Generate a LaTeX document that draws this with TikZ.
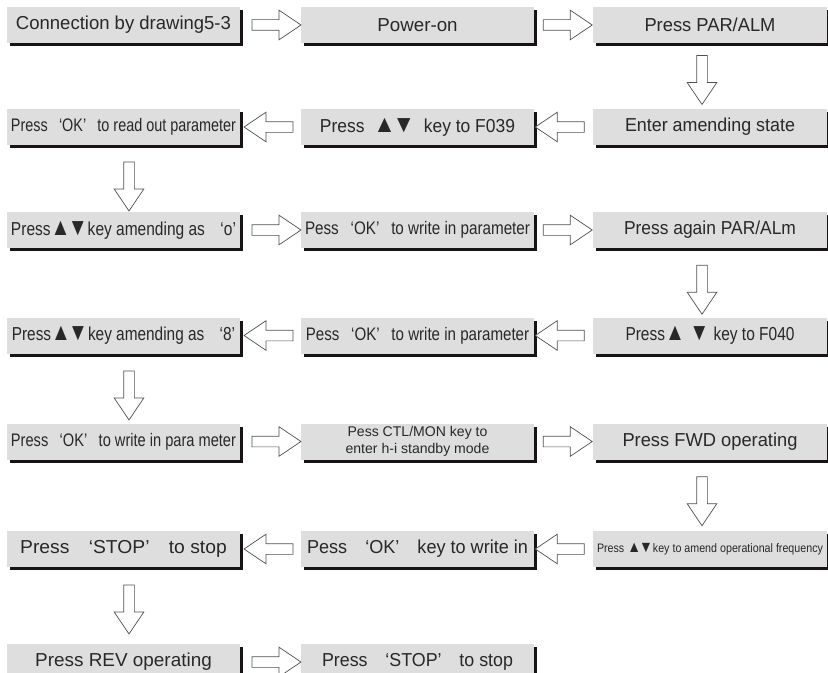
\documentclass[tikz,border=0pt]{standalone}
\usepackage{fontspec}
\setmainfont{Liberation Sans}
\usepackage{graphicx}
\usetikzlibrary{calc,shapes.arrows,shadows}
\definecolor{boxgray}{RGB}{222,222,222}
\definecolor{txtgray}{RGB}{40,40,40}
\definecolor{edgegray}{RGB}{80,80,80}
\definecolor{shadowblk}{RGB}{25,20,20}
\newcommand\fitw[2]{\resizebox{#1}{\height}{#2}}
\newcommand\tup{\scalebox{1.3}{▲}}
\newcommand\tdn{\scalebox{1.3}{▼}}
\newcommand\updn{\tup\kern-0.18em\tdn}
\tikzset{
  stepbox/.style={fill=boxgray, text=txtgray, minimum width=70mm, minimum height=10.8mm,
    inner sep=0pt, align=center,
    drop shadow={shadow xshift=0.9mm, shadow yshift=-0.9mm, fill=shadowblk, opacity=1}},
  blk/.style={single arrow, draw=edgegray, fill=white, line width=0.6pt,
    inner xsep=0pt, inner ysep=1.5mm, single arrow head extend=2.85mm,
    single arrow tip angle=68, minimum height=14.7mm},
  bigtxt/.style={font=\fontsize{16}{18}\selectfont},
  midtxt/.style={font=\fontsize{15.5}{17}\selectfont},
  smalltxt/.style={font=\fontsize{12}{15}\selectfont},
}

\begin{document}
\begin{tikzpicture}[x=0.3mm, y=-0.3mm]
  \useasboundingbox (0,0) rectangle (828,672);
  % row 1
  \node[stepbox, bigtxt] (conn)     at (123.5,25) {\fitw{64.5mm}{Connection by drawing5-3}};
  \node[stepbox, bigtxt] (poweron)  at (417.5,25) {Power-on};
  \node[stepbox, bigtxt] (paralm)   at (710,25)   {\fitw{39.3mm}{Press PAR/ALM}};
  % row 2
  \node[stepbox, midtxt] (readout)  at (123.5,127) {\fitw{67.5mm}{Press\enspace\ ‘OK’\enspace\ to read out parameter}};
  \node[stepbox, bigtxt] (keyA)     at (417.5,127) {\fitw{58.5mm}{Press\enspace \updn\enspace key to F039}};
  \node[stepbox, bigtxt] (amend)    at (710,127)   {\fitw{51mm}{Enter amending state}};
  % row 3
  \node[stepbox, bigtxt] (setO)     at (123.5,230) {\fitw{67.5mm}{Press\updn key amending as\quad ‘o’}};
  \node[stepbox, midtxt] (writeA)   at (417.5,230) {\fitw{67.5mm}{Pess\enspace\ ‘OK’\enspace\ to write in parameter}};
  \node[stepbox, bigtxt] (again)    at (710,230)   {\fitw{51.6mm}{Press again PAR/ALm}};
  % row 4
  \node[stepbox, bigtxt] (setEight) at (123.5,335.5) {\fitw{67mm}{Press\updn key amending as\quad ‘8’}};
  \node[stepbox, midtxt] (writeB)   at (417.5,335.5) {\fitw{67mm}{Pess\enspace\ ‘OK’\enspace\ to write in parameter}};
  \node[stepbox, bigtxt] (keyB)     at (710,335.5)   {\fitw{50.7mm}{Press\tup\ \tdn\ key to F040}};
  % row 5
  \node[stepbox, midtxt] (writeC)   at (123.5,441.5) {\fitw{67.5mm}{Press\enspace\ ‘OK’\enspace\ to write in para meter}};
  \node[stepbox, smalltxt] (ctlmon) at (417.5,441.5) {Pess CTL/MON key to\\enter h-i standby mode};
  \node[stepbox, bigtxt] (fwd)      at (710,441.5)   {\fitw{52.5mm}{Press FWD operating}};
  % row 6
  \node[stepbox, bigtxt] (stopA)    at (123.5,549) {\fitw{62mm}{Press\quad‘STOP’\quad to stop}};
  \node[stepbox, bigtxt] (okkey)    at (417.5,549) {\fitw{66.3mm}{Pess\quad‘OK’\quad key to write in}};
  \node[stepbox, font=\fontsize{10.5}{12}\selectfont] (freq) at (710,549)
    {\fitw{67.8mm}{Press \updn key to amend operational frequency}};
  % row 7
  \node[stepbox, bigtxt] (rev)      at (123.5,662) {\fitw{53mm}{Press REV operating}};
  \node[stepbox, bigtxt] (stopB)    at (417.5,662) {\fitw{57.3mm}{Press\quad‘STOP’\quad to stop}};

  % block arrows
  \node[blk] at ($(conn.east)!0.5!(poweron.west)+(2,0)$) {};
  \node[blk] at ($(poweron.east)!0.5!(paralm.west)$) {};
  \node[blk, rotate=-90] at ($(paralm.south)!0.5!(amend.north)+(-8,0)$) {};
  \node[blk, rotate=180] at ($(amend.west)!0.5!(keyA.east)$) {};
  \node[blk, rotate=180] at ($(keyA.west)!0.5!(readout.east)+(2,0)$) {};
  \node[blk, rotate=-90] at ($(readout.south)!0.5!(setO.north)+(5.5,4)$) {};
  \node[blk] at ($(setO.east)!0.5!(writeA.west)+(2,0)$) {};
  \node[blk] at ($(writeA.east)!0.5!(again.west)$) {};
  \node[blk, rotate=-90] at ($(again.south)!0.5!(keyB.north)+(-8,3)$) {};
  \node[blk, rotate=180] at ($(keyB.west)!0.5!(writeB.east)$) {};
  \node[blk, rotate=180] at ($(writeB.west)!0.5!(setEight.east)+(2,0)$) {};
  \node[blk, rotate=-90] at ($(setEight.south)!0.5!(writeC.north)+(5.5,3)$) {};
  \node[blk] at ($(writeC.east)!0.5!(ctlmon.west)+(2,0)$) {};
  \node[blk] at ($(ctlmon.east)!0.5!(fwd.west)$) {};
  \node[blk, rotate=-90] at ($(fwd.south)!0.5!(freq.north)+(-8,2)$) {};
  \node[blk, rotate=180] at ($(freq.west)!0.5!(okkey.east)$) {};
  \node[blk, rotate=180] at ($(okkey.west)!0.5!(stopA.east)+(2,0)$) {};
  \node[blk, rotate=-90] at ($(stopA.south)!0.5!(rev.north)+(5.5,0)$) {};
  \node[blk] at ($(rev.east)!0.5!(stopB.west)+(2,0)$) {};
\end{tikzpicture}
\end{document}
